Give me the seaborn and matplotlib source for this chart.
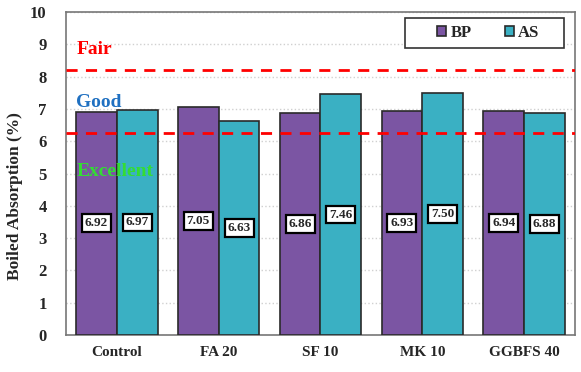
import pandas as pd
import seaborn as sns
import matplotlib.pyplot as plt
from matplotlib.patches import Rectangle

mixes = ["Control", "FA 20", "SF 10", "MK 10", "GGBFS 40"]
bp = [6.92, 7.05, 6.86, 6.93, 6.94]
as_vals = [6.97, 6.63, 7.46, 7.50, 6.88]
series = ["BP", "AS"]

df = pd.DataFrame({
    "Mix": mixes * 2,
    "Value": bp + as_vals,
    "Series": ["BP"] * len(mixes) + ["AS"] * len(mixes),
})

sns.set_style("white")
plt.rcParams["font.family"] = ["Liberation Serif", "DejaVu Serif"]
plt.rcParams["font.weight"] = "bold"

fig = plt.figure(figsize=(5.81, 3.72), dpi=100)
ax = fig.add_axes([0.1136, 0.0995, 0.876, 0.868])

colors = {"BP": "#7b55a3", "AS": "#3ab0c3"}
sns.barplot(data=df, x="Mix", y="Value", hue="Series", hue_order=series,
            palette=colors, edgecolor="#2a2a2a", linewidth=1.2,
            width=0.8, gap=0, saturation=1, ax=ax, zorder=3)

# value labels at half bar height
for cont in ax.containers:
    for bar in cont:
        h = bar.get_height()
        ax.text(bar.get_x() + bar.get_width() / 2, h / 2, f"{h:.2f}",
                ha="center", va="center", fontsize=9.5, fontweight="bold",
                zorder=5,
                bbox=dict(boxstyle="square,pad=0.22", fc="white", ec="black", lw=1.6))

# limits
ax.axhline(8.2, color="#ff0000", ls=(0, (4, 3)), lw=2, zorder=4)
ax.axhline(6.25, color="#ff0000", ls=(0, (4, 3)), lw=2, zorder=4)
ax.text(0.02, 8.85, "Fair", color="#ff0000", fontsize=14, fontweight="bold",
        transform=ax.get_yaxis_transform(), va="center", zorder=6)
ax.text(0.02, 7.2, "Good", color="#1f70c1", fontsize=14, fontweight="bold",
        transform=ax.get_yaxis_transform(), va="center", zorder=6)
ax.text(0.02, 5.05, "Excellent", color="#33dd33", fontsize=14, fontweight="bold",
        transform=ax.get_yaxis_transform(), va="center", zorder=6)

ax.set_ylim(0, 10)
ax.set_xlim(-0.5, 4.5)
ax.set_yticks(range(0, 11))
ax.yaxis.grid(True, color="#d0d0d0", ls=":", lw=1)
ax.set_axisbelow(True)
ax.set_xlabel("")
ax.set_ylabel("Boiled Absorption (%)", fontsize=12.5, fontweight="bold")
ax.yaxis.set_label_coords(-0.085, 0.43)
ax.tick_params(axis="y", labelsize=12, length=0, pad=14)
ax.tick_params(axis="x", labelsize=11, length=0, pad=8)
for lab in ax.get_xticklabels() + ax.get_yticklabels():
    lab.set_fontweight("bold")
for s in ax.spines.values():
    s.set_color("#777777")
    s.set_linewidth(1.2)

# legend without frame, plus a wider box drawn behind it
leg = ax.legend(loc="center", ncol=2, frameon=False,
                handlelength=0.55, handleheight=0.55, handletextpad=0.25,
                columnspacing=2.0, bbox_to_anchor=(0.83, 0.935),
                prop={"weight": "bold", "size": 12})
leg.set_zorder(8)
ax.add_patch(Rectangle((0.666, 0.889), 0.312, 0.092, transform=ax.transAxes,
                       fc="white", ec="#333333", lw=1.2, zorder=7))

fig.savefig("out.png", dpi=100)
